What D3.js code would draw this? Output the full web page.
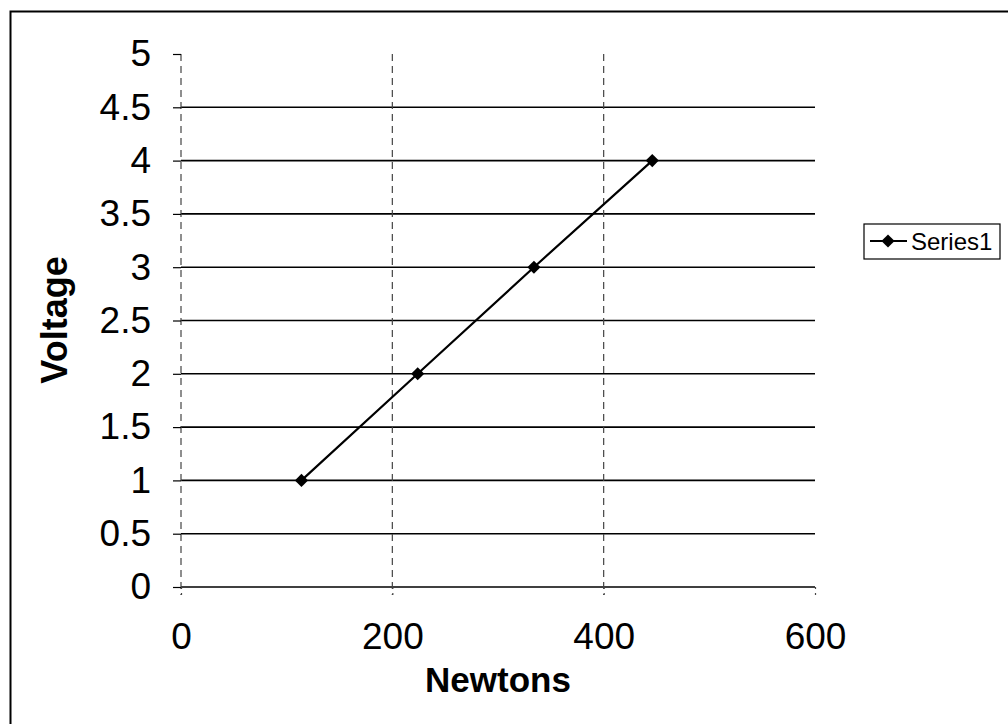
<!DOCTYPE html>
<html>
<head>
<meta charset="utf-8">
<script src="https://cdn.jsdelivr.net/npm/d3@7"></script>
<style>
  html, body { margin: 0; padding: 0; background: #fff; }
  svg { display: block; font-family: "Liberation Sans", Arial, sans-serif; }
</style>
</head>
<body>
<svg id="chart" width="1008" height="724"></svg>
<script>
// Data
const newtons = [114, 224, 334, 446];
const voltage = [1, 2, 3, 4];
const seriesName = "Series1";
const xTicks = [0, 200, 400, 600];
const yTicks = [0, 0.5, 1, 1.5, 2, 2.5, 3, 3.5, 4, 4.5, 5];
const xTitle = "Newtons";
const yTitle = "Voltage";

const svg = d3.select("#chart");

// chart area border (top and left visible, others beyond the frame)
svg.append("rect")
  .attr("x", 10.5).attr("y", 11.5)
  .attr("width", 1100).attr("height", 800)
  .attr("fill", "none").attr("stroke", "#000").attr("stroke-width", 2);

const x = d3.scaleLinear().domain([0, 600]).range([181, 815]);
const y = d3.scaleLinear().domain([0, 5]).range([587, 54]);

// horizontal gridlines (solid)
svg.append("g").selectAll("line")
  .data(yTicks.filter(d => d < 5))
  .join("line")
  .attr("x1", x(0)).attr("x2", x(600))
  .attr("y1", d => y(d)).attr("y2", d => y(d))
  .attr("stroke", "#000").attr("stroke-width", 1.6);

// vertical gridlines (dashed)
svg.append("g").selectAll("line")
  .data(xTicks.filter(d => d < 600))
  .join("line")
  .attr("x1", d => x(d)).attr("x2", d => x(d))
  .attr("y1", y(5)).attr("y2", y(0) + 8)
  .attr("stroke", "#444").attr("stroke-width", 1.2)
  .attr("stroke-dasharray", "7,5");

// y axis ticks + labels
const yAxis = d3.axisLeft(y).tickValues(yTicks).tickSize(8).tickPadding(22)
  .tickFormat(d3.format("~g"));
const gy = svg.append("g").attr("transform", `translate(${x(0)},0)`).call(yAxis);
gy.select(".domain").remove();
gy.selectAll(".tick line").attr("stroke", "#000").attr("stroke-width", 1.2);
gy.selectAll(".tick text")
  .attr("font-size", 37).attr("fill", "#000")
  .attr("font-family", "Liberation Sans, Arial, sans-serif");

// x axis ticks + labels
const xAxis = d3.axisBottom(x).tickValues(xTicks).tickSize(8).tickPadding(28)
  .tickFormat(d3.format("d"));
const gx = svg.append("g").attr("transform", `translate(0,${y(0)})`).call(xAxis);
gx.select(".domain").remove();
gx.selectAll(".tick line").attr("stroke", "#444").attr("stroke-width", 1.2)
  .attr("stroke-dasharray", "2,4");
gx.selectAll(".tick text")
  .attr("font-size", 37).attr("fill", "#000")
  .attr("font-family", "Liberation Sans, Arial, sans-serif");

// axis titles
svg.append("text")
  .attr("x", 498).attr("y", 692)
  .attr("text-anchor", "middle")
  .attr("font-size", 35).attr("font-weight", "bold")
  .text(xTitle);

svg.append("text")
  .attr("transform", "translate(67,320) rotate(-90)")
  .attr("text-anchor", "middle")
  .attr("font-size", 36).attr("font-weight", "bold")
  .text(yTitle);

// series line
const pts = newtons.map((d, i) => [d, voltage[i]]);
svg.append("path")
  .datum(pts)
  .attr("fill", "none").attr("stroke", "#000").attr("stroke-width", 2.2)
  .attr("d", d3.line().x(d => x(d[0])).y(d => y(d[1])));

const diamond = d3.symbol().type(d3.symbolDiamond2).size(110);
svg.append("g").selectAll("path")
  .data(pts)
  .join("path")
  .attr("transform", d => `translate(${x(d[0])},${y(d[1])})`)
  .attr("d", diamond)
  .attr("fill", "#000");

// legend
const lg = svg.append("g");
lg.append("rect")
  .attr("x", 864).attr("y", 224).attr("width", 136).attr("height", 35)
  .attr("fill", "none").attr("stroke", "#000").attr("stroke-width", 1.2);
lg.append("line")
  .attr("x1", 870).attr("x2", 907).attr("y1", 241).attr("y2", 241)
  .attr("stroke", "#000").attr("stroke-width", 2);
lg.append("path")
  .attr("transform", "translate(888,241)")
  .attr("d", diamond).attr("fill", "#000");
lg.append("text")
  .attr("x", 911).attr("y", 249.5)
  .attr("font-size", 24)
  .text(seriesName);
</script>
</body>
</html>
